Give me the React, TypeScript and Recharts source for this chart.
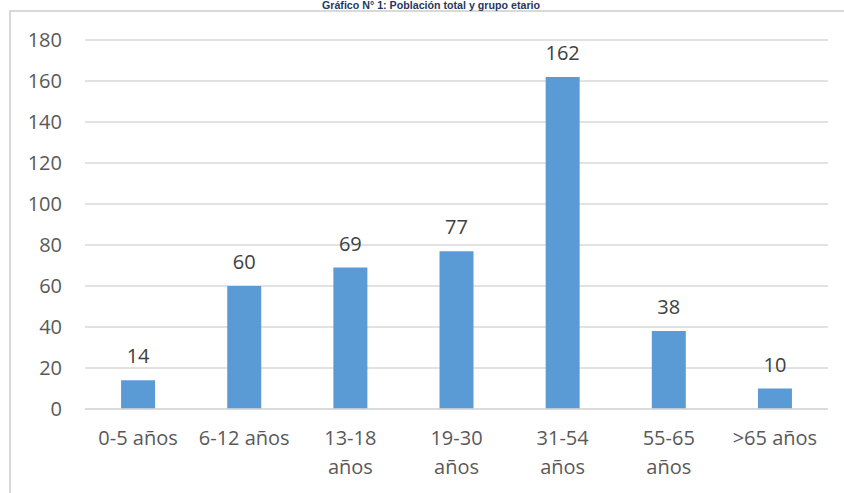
import React from 'react';
import { BarChart, Bar, XAxis, YAxis, CartesianGrid, LabelList } from 'recharts';

const categories = ['0-5 años', '6-12 años', '13-18 años', '19-30 años', '31-54 años', '55-65 años', '>65 años'];
const values = [14, 60, 69, 77, 162, 38, 10];
const yTicks = [0, 20, 40, 60, 80, 100, 120, 140, 160, 180];

const data = categories.map((c, i) => ({ grupo: c, total: values[i] }));

const FONT = '"Open Sans", "Noto Sans", "Liberation Sans", sans-serif';

// long labels wrap onto a second line like the original chart
const CategoryTick = (props: any) => {
    const { x, y, payload } = props;
    const label: string = payload.value;
    const lines = label.length >= 10 ? label.split(' ') : [label];
    return (
        <text x={x} y={y} textAnchor="middle" fill="#595959" fontSize={20} fontFamily={FONT}>
            {lines.map((l, i) => (
                <tspan key={i} x={x} dy={i === 0 ? 28 : 29}>{l}</tspan>
            ))}
        </text>
    );
};

export default function App() {
    return (
        <div style={{ position: 'fixed', left: 0, top: 0, width: 844, height: 493, background: '#fff', overflow: 'hidden' }}>
            <div style={{ position: 'absolute', left: 9, top: 10, right: -10, bottom: -10, borderTop: '2px solid #d9d9d9', borderLeft: '2px solid #d9d9d9' }} />
            <svg width={844} height={20} style={{ position: 'absolute', left: 0, top: 0 }}>
                <text x={431} y={9} textAnchor="middle" textLength={218} lengthAdjust="spacingAndGlyphs"
                    fontFamily='"Liberation Sans", Arial, sans-serif' fontWeight="bold" fontSize={11} fill="#1F3864">
                    Gráfico N° 1: Población total y grupo etario
                </text>
            </svg>
            <div style={{ position: 'absolute', left: 0, top: 0 }}>
                <BarChart width={844} height={493} data={data} margin={{ top: 40, right: 16, bottom: 0, left: 0 }} barCategoryGap="34%">
                    <CartesianGrid vertical={false} stroke="#d9d9d9" strokeWidth={1.5} />
                    <XAxis dataKey="grupo" height={84} tickLine={false} axisLine={{ stroke: '#d9d9d9', strokeWidth: 1.5 }} tick={<CategoryTick />} interval={0} />
                    <YAxis width={85} domain={[0, 180]} ticks={yTicks} tickLine={false} axisLine={false} tickMargin={17} tick={{ fill: '#595959', fontSize: 20, fontFamily: FONT }} />
                    <Bar dataKey="total" fill="#5B9BD5" isAnimationActive={false}>
                        <LabelList dataKey="total" position="top" offset={17} fill="#404040" fontSize={20} fontFamily={FONT} />
                    </Bar>
                </BarChart>
            </div>
        </div>
    );
}
